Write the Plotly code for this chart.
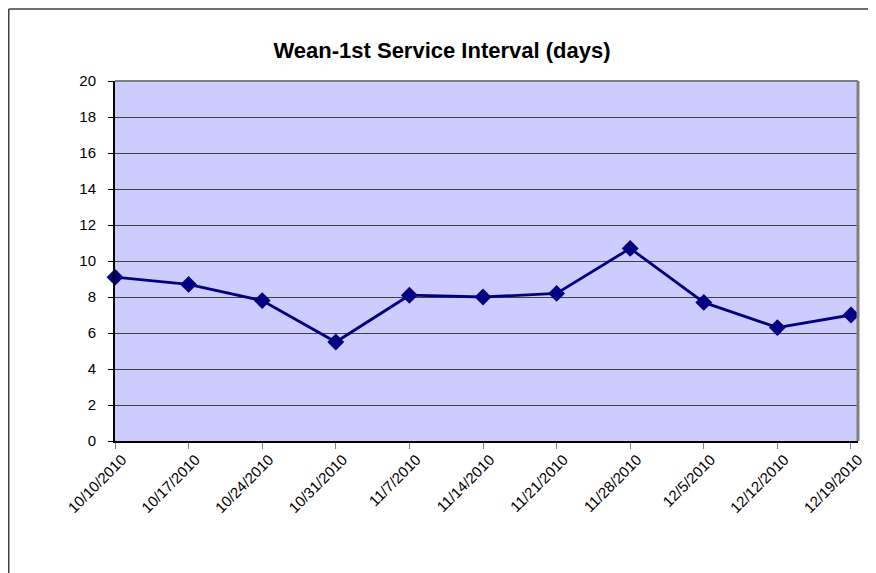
import plotly.graph_objects as go

dates = ['2010-10-10', '2010-10-17', '2010-10-24', '2010-10-31', '2010-11-07',
         '2010-11-14', '2010-11-21', '2010-11-28', '2010-12-05', '2010-12-12', '2010-12-19']
tick_labels = ['10/10/2010', '10/17/2010', '10/24/2010', '10/31/2010', '11/7/2010',
               '11/14/2010', '11/21/2010', '11/28/2010', '12/5/2010', '12/12/2010', '12/19/2010']
values = [9.1, 8.7, 7.8, 5.5, 8.1, 8.0, 8.2, 10.7, 7.7, 6.3, 7.0]
y_ticks = list(range(0, 21, 2))

OFF = 8  # page body margin
W, H = 876 - OFF, 573 - OFF
L, R, T, B = 115 - OFF, 858 - OFF, 81 - OFF, 441 - OFF
PW, PH = R - L, B - T

fig = go.Figure()
fig.add_trace(go.Scatter(
    x=dates, y=values, mode='lines+markers',
    line=dict(color='#000080', width=2.8),
    marker=dict(symbol='diamond', size=13, color='#000080'),
    cliponaxis=False, showlegend=False,
))

fig.update_layout(
    template='none',
    width=W, height=H,
    margin=dict(l=L, r=W - R, t=T, b=H - B, pad=0),
    paper_bgcolor='white',
    plot_bgcolor='#CCCCFF',
    font=dict(family='Arial, Liberation Sans, sans-serif', color='black', size=15),
    title=dict(text='<b>Wean-1st Service Interval (days)</b>', x=0.5, xanchor='center',
               y=1 - (50 - OFF) / H, yanchor='middle', font=dict(size=22)),
    xaxis=dict(
        type='date', range=['2010-10-10', '2010-12-19 16:00'],
        tickvals=dates, ticktext=tick_labels, tickangle=-45,
        ticks='outside', ticklen=6, tickcolor='#808080', tickwidth=1,
        showgrid=False, zeroline=False, showline=True, linecolor='black', linewidth=2,
        automargin=False, tickfont=dict(size=15), ticklabelstandoff=-4, ticklabelshift=7,
    ),
    yaxis=dict(
        range=[0, 20], tickvals=y_ticks,
        ticks='outside', ticklen=5, tickcolor='black', tickwidth=1,
        showgrid=True, gridcolor='#404040', gridwidth=1,
        zeroline=False, showline=True, linecolor='black', linewidth=2,
        automargin=False, tickfont=dict(size=15), ticklabelstandoff=9,
    ),
    shapes=[
        dict(type='line', xref='paper', yref='paper', x0=0, x1=1, y0=1, y1=1,
             line=dict(color='#808080', width=2)),
        dict(type='line', xref='paper', yref='paper', x0=1, x1=1, y0=0, y1=1,
             line=dict(color='#808080', width=3)),
        # outer chart frame (top and left edges)
        dict(type='line', xref='paper', yref='paper',
             x0=(0.75 - L) / PW, x1=(W + 5 - L) / PW,
             y0=(B - (9 - OFF)) / PH, y1=(B - (9 - OFF)) / PH,
             line=dict(color='#404040', width=1.5)),
        dict(type='line', xref='paper', yref='paper',
             x0=(0.75 - L) / PW, x1=(0.75 - L) / PW,
             y0=(B - H - 5) / PH, y1=(B - (9 - OFF)) / PH,
             line=dict(color='#404040', width=1.5)),
    ],
)

fig.write_html('out.html')
